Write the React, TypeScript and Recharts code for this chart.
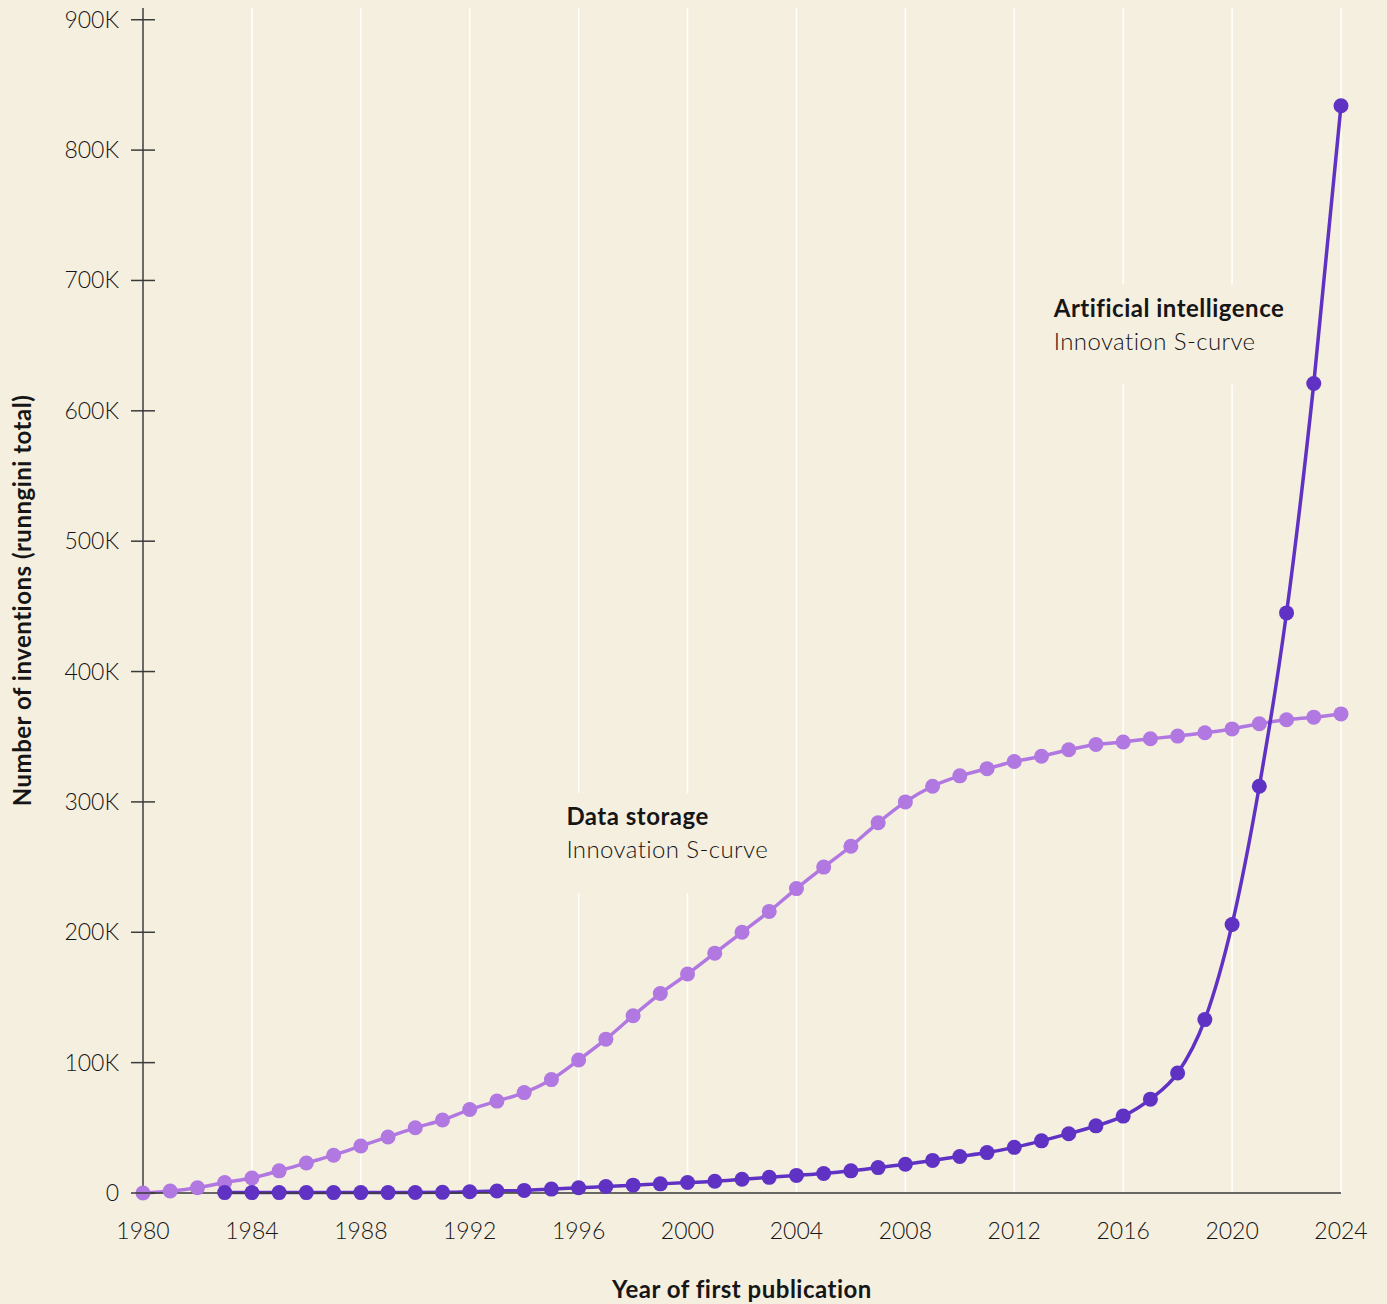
import React from 'react';
import {
  LineChart,
  Line,
  XAxis,
  YAxis,
  CartesianGrid,
  ReferenceDot,
} from 'recharts';

const years = [
  1980, 1981, 1982, 1983, 1984, 1985, 1986, 1987, 1988, 1989,
  1990, 1991, 1992, 1993, 1994, 1995, 1996, 1997, 1998, 1999,
  2000, 2001, 2002, 2003, 2004, 2005, 2006, 2007, 2008, 2009,
  2010, 2011, 2012, 2013, 2014, 2015, 2016, 2017, 2018, 2019,
  2020, 2021, 2022, 2023, 2024,
];

// running totals
const dataStorage = [
  0, 1500, 4000, 8000, 11500, 17000, 23000, 29000, 36000, 43000,
  50000, 56000, 64000, 70500, 77000, 87000, 102000, 118000, 136000, 153000,
  168000, 184000, 200000, 216000, 233500, 250000, 266000, 284000, 300000, 312000,
  320000, 325500, 331000, 335000, 340000, 344000, 346000, 348500, 350500, 353000,
  356000, 360000, 363000, 365000, 367500,
];

const artificialIntelligence = [
  null, null, null, 300, 300, 300, 300, 300, 300, 300,
  400, 500, 1000, 1500, 2000, 3000, 4000, 5000, 6000, 7000,
  8000, 9000, 10500, 12000, 13500, 15000, 17000, 19500, 22000, 25000,
  28000, 31000, 35000, 40000, 45500, 51500, 59000, 72000, 92000, 133000,
  206000, 312000, 445000, 621000, 834000,
];

const xTicks = [1980, 1984, 1988, 1992, 1996, 2000, 2004, 2008, 2012, 2016, 2020, 2024];
const yTicks = [0, 100000, 200000, 300000, 400000, 500000, 600000, 700000, 800000, 900000];

const annotations = [
  { year: 2013.45, value: 680000, title: 'Artificial intelligence', subtitle: 'Innovation S-curve', boxWidth: 262 },
  { year: 1995.55, value: 290000, title: 'Data storage', subtitle: 'Innovation S-curve', boxWidth: 225 },
];

const data = years.map((year, i) => ({
  year,
  storage: dataStorage[i],
  ai: artificialIntelligence[i],
}));

const BG = '#F5EFE0';
const FONT = 'Lato, "Open Sans", sans-serif';
const INK = '#161616';

const formatK = (v: number) => (v === 0 ? '0' : `${v / 1000}K`);

const YTick = (props: any) => {
  const { x, y, payload } = props;
  return (
    <g>
      <line x1={x - 12} x2={x + 12} y1={y} y2={y} stroke="#3a3a3a" strokeWidth={1.5} />
      <text
        x={x - 24}
        y={y}
        dy={8}
        textAnchor="end"
        fontSize={23}
        fontWeight={300}
        fill={INK}
        fontFamily={FONT}
      >
        {formatK(payload.value)}
      </text>
    </g>
  );
};

const makeNote = (title: string, subtitle: string, boxWidth: number) => (props: any) => {
  const { cx, cy } = props;
  return (
    <g>
      <rect x={cx - 12} y={cy - 22} width={boxWidth} height={100} fill={BG} />
      <text
        x={cx}
        y={cy}
        dy={10}
        fontSize={24}
        fontWeight={700}
        letterSpacing={0.5}
        fill={INK}
        fontFamily={FONT}
      >
        {title}
      </text>
      <text
        x={cx}
        y={cy + 33}
        dy={10}
        fontSize={24}
        fontWeight={300}
        letterSpacing={0.4}
        fill={INK}
        fontFamily={FONT}
      >
        {subtitle}
      </text>
    </g>
  );
};

export default function App() {
  return (
    <div style={{ position: 'absolute', left: 0, top: 0, width: 1387, height: 1304, background: BG }}>
      <LineChart
        width={1387}
        height={1304}
        data={data}
        margin={{ top: 8, right: 46, left: 0, bottom: 0 }}
      >
        <CartesianGrid vertical horizontal={false} stroke="#ffffff" strokeWidth={1.5} />
        <XAxis
          dataKey="year"
          type="number"
          domain={[1980, 2024]}
          ticks={xTicks}
          tickLine={false}
          axisLine={{ stroke: '#3a3a3a', strokeWidth: 1.5 }}
          tickMargin={24}
          height={111}
          tick={{ fontSize: 23, fontWeight: 300, fill: INK, fontFamily: FONT }}
          label={{
            value: 'Year of first publication',
            position: 'insideBottom',
            offset: 6,
            style: { fontSize: 24, fontWeight: 700, letterSpacing: 0.5, fill: INK, fontFamily: FONT },
          }}
        />
        <YAxis
          type="number"
          domain={[0, 909000]}
          ticks={yTicks}
          width={143}
          tickSize={0}
          tickMargin={0}
          tickLine={false}
          axisLine={{ stroke: '#3a3a3a', strokeWidth: 1.5 }}
          tick={<YTick />}
          label={{
            value: 'Number of inventions (runngini total)',
            angle: -90,
            position: 'insideLeft',
            offset: 22,
            style: { textAnchor: 'middle', fontSize: 24, fontWeight: 700, letterSpacing: 0.5, fill: INK, fontFamily: FONT },
          }}
        />
        {annotations.map((a) => (
          <ReferenceDot
            key={a.title}
            x={a.year}
            y={a.value}
            ifOverflow="visible"
            shape={makeNote(a.title, a.subtitle, a.boxWidth)}
          />
        ))}
        <Line
          type="monotone"
          dataKey="storage"
          stroke="#B078E0"
          strokeWidth={3.5}
          dot={{ r: 7.5, fill: '#B078E0', stroke: 'none' }}
          isAnimationActive={false}
        />
        <Line
          type="monotone"
          dataKey="ai"
          stroke="#5F32C4"
          strokeWidth={3.5}
          dot={{ r: 7.5, fill: '#5F32C4', stroke: 'none' }}
          connectNulls={false}
          isAnimationActive={false}
        />
      </LineChart>
    </div>
  );
}
